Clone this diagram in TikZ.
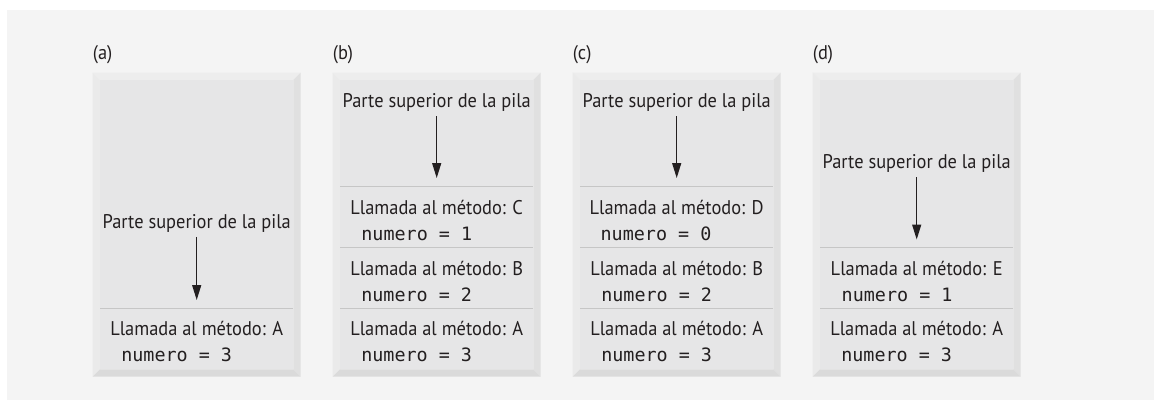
\documentclass[tikz,border=0pt]{standalone}
\usepackage{fontspec}
\setmainfont{PT Sans}[FakeStretch=0.93]
\setmonofont{DejaVu Sans Mono}
\usepackage{tikz}
\usetikzlibrary{arrows.meta,positioning}
\definecolor{PageGrey}{RGB}{244,244,244}
\definecolor{PanelGrey}{RGB}{230,230,231}
\definecolor{BevelLight}{RGB}{237,237,237}
\definecolor{BevelSide}{RGB}{234,234,234}
\definecolor{BevelDark}{RGB}{224,224,224}
\definecolor{BevelDeep}{RGB}{218,218,218}
\definecolor{RuleGrey}{RGB}{198,198,198}
\definecolor{InkDark}{RGB}{35,31,32}

\begin{document}
\begin{tikzpicture}[x=1pt, y=-1pt,
    every node/.style={inner sep=0pt, text=InkDark},
    stacklabel/.style={anchor=base west, font=\fontsize{19.8}{23}\selectfont},
    toptext/.style={anchor=base, font=\fontsize{19.8}{23}\selectfont},
    calltext/.style={anchor=base, font=\fontsize{19.8}{23}\selectfont},
    numtext/.style={anchor=base west, font=\ttfamily\fontsize{18.4}{22}\selectfont},
    pointer/.style={-{Triangle[length=15pt,width=9pt]}, line width=1.3pt, InkDark, shorten <=4.5pt},
    divider/.style={draw=RuleGrey, line width=1.5pt}
]
    \useasboundingbox (0,0) rectangle (1154,400);
    \fill[white] (0,0) rectangle (1154,400);
    \fill[PageGrey] (7,10) rectangle (1154,400);

    % bevelled stack frames
    \foreach \L in {92.7,332.7,572.7,812.7} {
        \fill[BevelLight] (\L,72.7) -- (\L+208,72.7) -- (\L+200.7,80) -- (\L+7.3,80) -- cycle;
        \fill[BevelSide] (\L,72.7) -- (\L+7.3,80) -- (\L+7.3,369.4) -- (\L,376.7) -- cycle;
        \fill[BevelDark] (\L+208,72.7) -- (\L+208,376.7) -- (\L+200.7,369.4) -- (\L+200.7,80) -- cycle;
        \fill[BevelDeep] (\L,376.7) -- (\L+208,376.7) -- (\L+200.7,369.4) -- (\L+7.3,369.4) -- cycle;
        \fill[PanelGrey] (\L+7.3,80) rectangle (\L+200.7,369.4);
    }

    % row separators
    \draw[divider] (100,308.3) -- (293.4,308.3);
    \foreach \L in {332.7,572.7} {
        \draw[divider] (\L+7.3,186.7) -- (\L+200.7,186.7);
        \draw[divider] (\L+7.3,247.7) -- (\L+200.7,247.7);
        \draw[divider] (\L+7.3,308.3) -- (\L+200.7,308.3);
    }
    \draw[divider] (820,247.7) -- (1013.4,247.7);
    \draw[divider] (820,308.3) -- (1013.4,308.3);

    % panel labels
    \node[stacklabel] (labA) at (92.7,59.3) {(a)};
    \node[stacklabel] (labB) at (332.7,59.3) {(b)};
    \node[stacklabel] (labC) at (572.7,59.3) {(c)};
    \node[stacklabel] (labD) at (812.7,59.3) {(d)};

    % (a)
    \node[toptext] (topA) at (196.7,228.3) {Parte superior de la pila};
    \coordinate (tipA) at (196.7,300);
    \draw[pointer] (topA) -- (tipA);
    \node[calltext] (callA1) at (196.7,335.7) {Llamada al método: A};
    \node[numtext] (numA1) at ([shift={(11pt,-26pt)}]callA1.base west) {numero = 3};

    % (b)
    \node[toptext] (topB) at (436.7,107.7) {Parte superior de la pila};
    \coordinate (tipB) at (436.7,178);
    \draw[pointer] (topB) -- (tipB);
    \node[calltext] (callB1) at (436.7,214.1) {Llamada al método: C};
    \node[numtext] (numB1) at ([shift={(11pt,-26pt)}]callB1.base west) {numero = 1};
    \node[calltext] (callB2) at (436.7,275.1) {Llamada al método: B};
    \node[numtext] (numB2) at ([shift={(11pt,-26pt)}]callB2.base west) {numero = 2};
    \node[calltext] (callB3) at (436.7,335.7) {Llamada al método: A};
    \node[numtext] (numB3) at ([shift={(11pt,-26pt)}]callB3.base west) {numero = 3};

    % (c)
    \node[toptext] (topC) at (676.7,107.7) {Parte superior de la pila};
    \coordinate (tipC) at (676.7,178);
    \draw[pointer] (topC) -- (tipC);
    \node[calltext] (callC1) at (676.7,214.1) {Llamada al método: D};
    \node[numtext] (numC1) at ([shift={(11pt,-26pt)}]callC1.base west) {numero = 0};
    \node[calltext] (callC2) at (676.7,275.1) {Llamada al método: B};
    \node[numtext] (numC2) at ([shift={(11pt,-26pt)}]callC2.base west) {numero = 2};
    \node[calltext] (callC3) at (676.7,335.7) {Llamada al método: A};
    \node[numtext] (numC3) at ([shift={(11pt,-26pt)}]callC3.base west) {numero = 3};

    % (d)
    \node[toptext] (topD) at (916.7,168.7) {Parte superior de la pila};
    \coordinate (tipD) at (916.7,239.5);
    \draw[pointer] (topD) -- (tipD);
    \node[calltext] (callD1) at (916.7,275.1) {Llamada al método: E};
    \node[numtext] (numD1) at ([shift={(11pt,-26pt)}]callD1.base west) {numero = 1};
    \node[calltext] (callD2) at (916.7,335.7) {Llamada al método: A};
    \node[numtext] (numD2) at ([shift={(11pt,-26pt)}]callD2.base west) {numero = 3};
\end{tikzpicture}
\end{document}
